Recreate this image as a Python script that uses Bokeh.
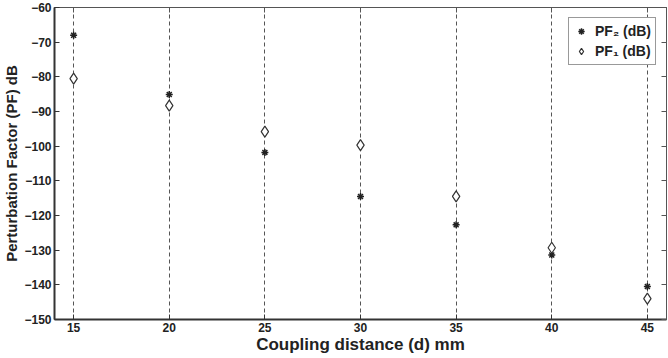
from bokeh.plotting import figure
from bokeh.models import LinearAxis, FixedTicker, Range1d, Legend, LegendItem
from bokeh.embed import file_html
from bokeh.resources import INLINE

distance = [15, 20, 25, 30, 35, 40, 45]
pf2 = [-68.0, -85.1, -101.8, -114.5, -122.7, -131.4, -140.5]
pf1 = [-80.5, -88.3, -95.8, -99.7, -114.5, -129.3, -144.0]
x_ticks = [15, 20, 25, 30, 35, 40, 45]
y_ticks = [-60, -70, -80, -90, -100, -110, -120, -130, -140, -150]

FONT = "'Liberation Sans', Arial, sans-serif"
TXT = "#222222"

p = figure(width=668, height=358, output_backend="svg", toolbar_location=None,
           x_range=Range1d(14, 46), y_range=Range1d(-150, -60),
           min_border_left=51, min_border_right=2, min_border_top=7, min_border_bottom=39)
p.background_fill_color = "white"
p.border_fill_color = "white"
p.outline_line_color = "#555555"
p.outline_line_width = 1

p.ygrid.visible = False
p.xgrid.ticker = FixedTicker(ticks=x_ticks)
p.xgrid.grid_line_color = "#555555"
p.xgrid.grid_line_dash = "4 3"
p.xgrid.grid_line_width = 1

for ax, ticks in ((p.xaxis[0], x_ticks), (p.yaxis[0], y_ticks)):
    ax.ticker = FixedTicker(ticks=ticks)
    ax.major_tick_in = 5
    ax.major_tick_out = 0
    ax.minor_tick_in = 0
    ax.minor_tick_out = 0
    ax.axis_line_width = 2
    ax.axis_line_color = "#333333"
    ax.major_tick_line_color = "#333333"
    ax.major_label_text_font = FONT
    ax.major_label_text_font_style = "bold"
    ax.major_label_text_font_size = "12px"
    ax.major_label_text_color = TXT
    ax.axis_label_text_font = FONT
    ax.axis_label_text_font_style = "bold"
    ax.axis_label_text_color = TXT

p.xaxis.axis_label = "Coupling distance (d) mm"
p.xaxis.axis_label_text_font_size = "17px"
p.xaxis.major_label_standoff = 3
p.xaxis.axis_label_standoff = 0
p.yaxis.axis_label = "Perturbation Factor (PF) dB"
p.yaxis.axis_label_text_font_size = "15px"
p.yaxis.major_label_standoff = 3
p.yaxis.axis_label_standoff = 1

ra = LinearAxis(ticker=FixedTicker(ticks=y_ticks),
                major_label_overrides={t: "" for t in y_ticks}, major_label_standoff=0,
                major_tick_in=5, major_tick_out=0, minor_tick_in=0, minor_tick_out=0,
                axis_line_color="#555555", major_tick_line_color="#555555")
ta = LinearAxis(ticker=FixedTicker(ticks=x_ticks),
                major_label_overrides={t: "" for t in x_ticks}, major_label_standoff=0,
                major_tick_in=5, major_tick_out=0, minor_tick_in=0, minor_tick_out=0,
                axis_line_color="#555555", major_tick_line_color="#555555")
p.add_layout(ra, "right")
p.add_layout(ta, "above")

r2 = p.scatter(distance, pf2, marker="asterisk", size=7, line_color="#222222", line_width=1.5)
r1 = p.scatter(distance, pf1, marker="diamond", size=11, line_color="#333333",
               fill_color="white", line_width=1.2)

legend = Legend(items=[LegendItem(label="PF\u2082 (dB)", renderers=[r2]),
                       LegendItem(label="PF\u2081 (dB)", renderers=[r1])],
                location="top_right")
legend.margin = 10
legend.padding = 4
legend.spacing = 2
legend.glyph_width = 16
legend.glyph_height = 18
legend.label_standoff = 6
legend.label_text_font = FONT
legend.label_text_font_style = "bold"
legend.label_text_font_size = "14px"
legend.label_text_color = TXT
legend.border_line_color = "#333333"
legend.border_line_width = 1.2
legend.background_fill_color = "white"
legend.background_fill_alpha = 1.0
p.add_layout(legend, "center")

open("out.html", "w").write(file_html(p, INLINE))
